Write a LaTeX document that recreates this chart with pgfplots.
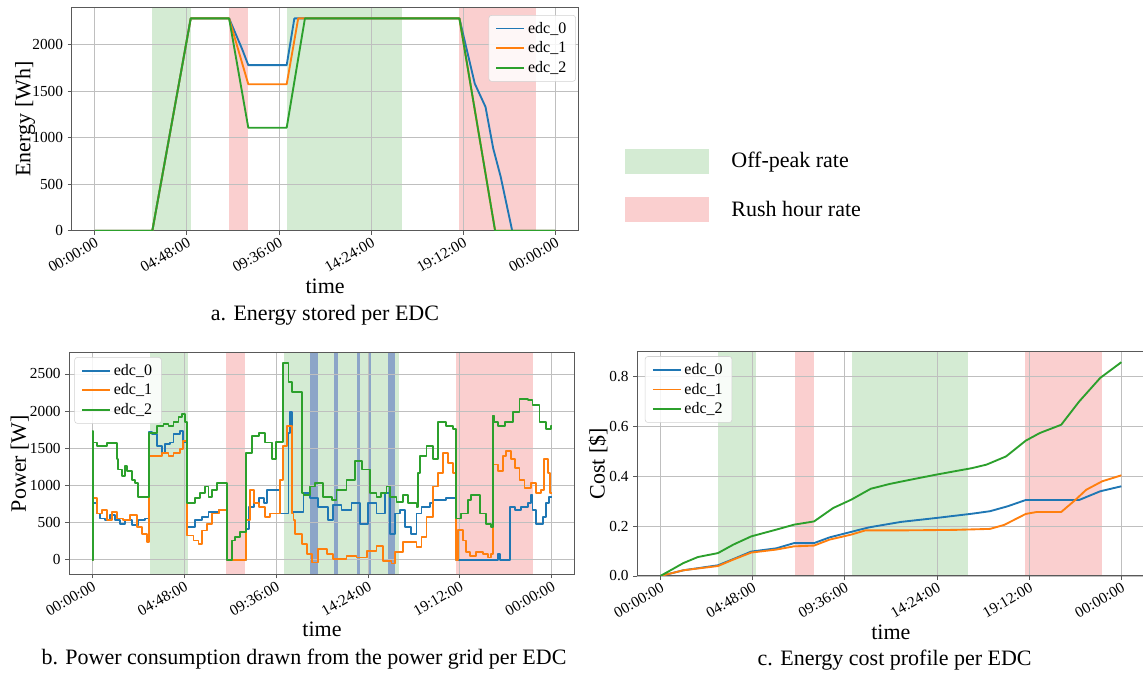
\documentclass[border=0pt]{standalone}
\usepackage{fontspec}
\setmainfont{Liberation Serif}
\usepackage{pgfplots}
\pgfplotsset{compat=1.18}
\definecolor{c0}{RGB}{31,119,180}
\definecolor{c1}{RGB}{255,127,14}
\definecolor{c2}{RGB}{44,160,44}
\definecolor{offpk}{RGB}{212,235,211}
\definecolor{rush}{RGB}{250,207,207}
\definecolor{bband}{RGB}{140,165,200}

\pgfplotsset{
  edcaxis/.style={
    scale only axis,
    set layers,
    clip mode=individual,
    xmin=-1.2, xmax=25.2,
    xtick={0,4.8,9.6,14.4,19.2,24},
    xticklabels={00:00:00,04:48:00,09:36:00,14:24:00,19:12:00,00:00:00},
    xticklabel style={rotate=30, anchor=north east, inner sep=1pt},
    tick label style={font=\fontsize{11.5}{13}\selectfont},
    /pgf/number format/assume math mode=true,
    /pgf/number format/1000 sep={},
    scaled y ticks=false,
    grid=major,
    grid style={draw=black!25, line width=0.6pt},
    axis line style={draw=black!65, line width=0.75pt},
    tick style={draw=black!65, line width=0.6pt},
    tick align=outside,
    major tick length=3pt,
    xtick pos=left, ytick pos=left,
    label style={font=\fontsize{16.5}{19}\selectfont},
    xlabel={time},
    xlabel style={at={(axis description cs:0.5,-0.25)}, anchor=center},
    legend style={font=\fontsize{12}{14}\selectfont, draw=black!18, fill=white, fill opacity=0.85, text opacity=1, rounded corners=2pt, row sep=1pt, inner xsep=5pt, inner ysep=3pt},
    legend cell align=left,
    legend image code/.code={\draw[##1, line width=1.4pt] (0pt,0pt) -- (21pt,0pt);},
    every axis plot/.append style={line width=1.4pt, line join=round},
  },
  band/.style={draw=none, fill=#1, forget plot, on layer=axis background},
}

\begin{document}
\begin{tikzpicture}

% ---------------- a. Energy stored ----------------
\begin{axis}[edcaxis,
  at={(53.8pt,331.7pt)}, anchor=south west,
  width=380pt, height=167.6pt,
  ymin=0, ymax=2400,
  ytick={0,500,1000,1500,2000},
  ylabel={Energy [Wh]},
  ylabel style={at={(axis description cs:-0.092,0.5)}, anchor=center},
  legend style={at={(0.995,0.965)}, anchor=north east},
]
\addplot[band=offpk] coordinates {(3,-100) (5,-100) (5,2500) (3,2500)} -- cycle;
\addplot[band=rush] coordinates {(7,-100) (8,-100) (8,2500) (7,2500)} -- cycle;
\addplot[band=offpk] coordinates {(10,-100) (16,-100) (16,2500) (10,2500)} -- cycle;
\addplot[band=rush] coordinates {(19,-100) (23,-100) (23,2500) (19,2500)} -- cycle;
\addplot[c0] coordinates {(0,0) (3,0) (5,2280) (7,2280) (7.69,1945) (8,1778) (10,1778) (10.4,2280) (19,2280) (19.8,1580) (20.36,1330) (20.76,885) (21.15,580) (21.75,0) (24,0)};
\addplot[c1] coordinates {(0,0) (3,0) (5,2280) (7,2280) (8,1573) (10,1573) (10.6,2280) (19,2280) (20.86,0) (24,0)};
\addplot[c2] coordinates {(0,0) (3,0) (5,2280) (7,2280) (8,1106) (10,1106) (10.95,2280) (19,2280) (20.86,0) (24,0)};
\legend{edc\_0,edc\_1,edc\_2}
\end{axis}

% ---------------- b. Power ----------------
\begin{axis}[edcaxis,
  at={(52pt,74pt)}, anchor=south west,
  width=379pt, height=166.2pt,
  ymin=-195, ymax=2785,
  ytick={0,500,1000,1500,2000,2500},
  ylabel={Power [W]},
  ylabel style={at={(axis description cs:-0.098,0.5)}, anchor=center},
  legend style={at={(0.01,0.98)}, anchor=north west},
]
\addplot[band=offpk] coordinates {(3,-300) (5,-300) (5,2900) (3,2900)} -- cycle;
\addplot[band=rush] coordinates {(7,-300) (8,-300) (8,2900) (7,2900)} -- cycle;
\addplot[band=offpk] coordinates {(10,-300) (16,-300) (16,2900) (10,2900)} -- cycle;
\addplot[band=rush] coordinates {(19,-300) (23,-300) (23,2900) (19,2900)} -- cycle;
\addplot[band=bband] coordinates {(11.39,-300) (11.81,-300) (11.81,2900) (11.39,2900)} -- cycle;
\addplot[band=bband] coordinates {(12.62,-300) (12.82,-300) (12.82,2900) (12.62,2900)} -- cycle;
\addplot[band=bband] coordinates {(13.81,-300) (14.01,-300) (14.01,2900) (13.81,2900)} -- cycle;
\addplot[band=bband] coordinates {(14.43,-300) (14.54,-300) (14.54,2900) (14.43,2900)} -- cycle;
\addplot[band=bband] coordinates {(15.47,-300) (15.80,-300) (15.80,2900) (15.47,2900)} -- cycle;
\addplot[c0, const plot] coordinates {(0,0) (0.02,759) (0.23,623) (0.4,555) (0.66,532) (0.92,600) (1.19,532) (1.45,486) (1.71,532) (2.06,464) (2.41,541) (2.76,555) (2.98,1723) (3.1,1691) (3.37,1532) (3.63,1441) (3.8,1555) (4.07,1577) (4.24,1691) (4.59,1736) (4.76,1577) (4.94,441) (5.38,532) (5.72,577) (6.07,645) (6.6,668) (7.03,0) (8.03,418) (8.17,714) (8.43,759) (8.69,827) (8.95,759) (9.13,941) (9.81,623) (10.25,1700) (10.33,1986) (10.42,645) (11.03,895) (11.38,827) (11.81,714) (12.33,532) (12.59,736) (13.02,668) (13.54,759) (13.98,486) (14.41,759) (14.85,623) (15.28,895) (15.54,350) (15.8,623) (16.07,668) (16.33,441) (16.67,350) (16.94,623) (17.2,714) (17.63,759) (17.8,804) (18.5,827) (19.02,0) (21.2,77) (21.3,0) (21.8,714) (22.06,668) (22.41,714) (22.75,759) (22.93,873) (23.0,668) (23.19,486) (23.54,577) (23.71,759) (23.88,850) (24,850)};
\addplot[c1, const plot] coordinates {(0,0) (0.02,827) (0.23,623) (0.49,668) (0.75,532) (1.01,645) (1.27,555) (1.62,532) (1.97,600) (2.32,441) (2.58,350) (2.84,236) (2.98,1395) (3.63,1441) (3.98,1395) (4.24,1441) (4.59,1486) (4.76,1600) (4.94,327) (5.29,259) (5.55,214) (5.72,395) (5.99,486) (6.25,623) (6.6,668) (7.03,0) (8.03,532) (8.25,941) (8.43,759) (8.69,714) (9.04,577) (9.3,623) (9.81,1077) (9.95,1532) (10.16,1804) (10.42,623) (10.51,532) (10.59,350) (10.94,214) (11.2,77) (11.46,-36) (11.81,145) (12.24,77) (12.59,9) (13.28,55) (13.8,32) (14.33,123) (14.85,191) (15.2,-14) (15.63,-50) (15.8,100) (16.24,236) (16.94,168) (17.2,307) (17.46,577) (17.8,986) (18.06,1168) (18.32,1441) (18.58,1304) (18.85,1168) (19.02,0) (19.1,400) (19.37,259) (19.54,100) (19.72,55) (20.06,100) (20.41,77) (20.67,32) (20.84,77) (20.93,1282) (21.19,1191) (21.45,1395) (21.62,1463) (21.89,1350) (22.06,1236) (22.32,1077) (22.58,964) (22.93,1032) (23.19,895) (23.45,941) (23.62,1350) (23.8,1168) (23.9,895) (24,895)};
\addplot[c2, const plot] coordinates {(0,0) (0.02,1736) (0.05,1577) (0.23,1532) (0.75,1568) (1.27,1350) (1.36,1214) (1.53,1123) (1.71,1259) (1.8,1191) (2.06,1077) (2.23,1032) (2.4,850) (2.67,841) (2.98,1705) (3.37,1805) (3.72,1827) (3.98,1805) (4.24,1850) (4.5,1918) (4.68,1964) (4.85,1850) (4.94,759) (5.38,827) (5.64,895) (5.9,986) (6.07,850) (6.25,941) (6.5,1032) (7.03,0) (7.3,259) (7.47,305) (7.73,373) (8.03,1441) (8.34,1668) (8.69,1705) (9.04,1577) (9.39,1350) (9.6,1580) (9.98,2645) (10.25,2395) (10.42,2259) (10.94,895) (11.03,873) (11.38,986) (11.64,1032) (12.07,850) (12.5,804) (12.76,941) (13.28,1077) (13.72,1327) (14.07,1214) (14.5,895) (14.85,850) (15.1,900) (15.37,986) (15.54,850) (15.89,782) (16.24,873) (16.5,759) (16.94,714) (17.02,1168) (17.11,1395) (17.46,1532) (17.8,1350) (18.06,1850) (18.5,1804) (18.85,1759) (19.02,555) (19.28,623) (19.63,804) (19.8,873) (20.24,623) (20.58,486) (20.84,441) (20.93,1941) (21.0,1850) (21.19,1804) (21.54,1850) (21.97,1986) (22.32,2168) (22.75,2150) (23.0,2077) (23.36,1850) (23.71,1759) (23.97,1804) (24,1804)};
\legend{edc\_0,edc\_1,edc\_2}
\end{axis}

% ---------------- c. Cost ----------------
\begin{axis}[edcaxis,
  at={(478pt,72.75pt)}, anchor=south west,
  width=380.3pt, height=168.2pt,
  ymin=0, ymax=0.9,
  ytick={0,0.2,0.4,0.6,0.8},
  yticklabel style={/pgf/number format/.cd, fixed, fixed zerofill, precision=1},
  ylabel={Cost [\$]},
  ylabel style={at={(axis description cs:-0.0775,0.5)}, anchor=center},
  legend style={at={(0.015,0.98)}, anchor=north west},
]
\addplot[band=offpk] coordinates {(3,-0.1) (5,-0.1) (5,1) (3,1)} -- cycle;
\addplot[band=rush] coordinates {(7,-0.1) (8,-0.1) (8,1) (7,1)} -- cycle;
\addplot[band=offpk] coordinates {(10,-0.1) (16,-0.1) (16,1) (10,1)} -- cycle;
\addplot[band=rush] coordinates {(19,-0.1) (23,-0.1) (23,1) (19,1)} -- cycle;
\addplot[c0] coordinates {(0,0) (1.2,0.023) (3,0.043) (3.8,0.068) (4.73,0.098) (6.03,0.111) (6.96,0.132) (8,0.132) (8.81,0.155) (9.93,0.177) (10.85,0.195) (12.52,0.217) (14.38,0.233) (16.23,0.25) (17.16,0.26) (18.09,0.28) (19.02,0.305) (20.87,0.305) (21.8,0.305) (22.9,0.34) (24,0.36)};
\addplot[c1] coordinates {(0,0) (1.2,0.023) (3,0.04) (3.8,0.066) (4.73,0.094) (6.03,0.106) (6.96,0.119) (8,0.122) (8.81,0.146) (9.93,0.166) (10.67,0.183) (12.5,0.183) (15.3,0.185) (17.16,0.189) (17.9,0.205) (19.02,0.249) (19.6,0.257) (20.87,0.257) (21.6,0.305) (22.17,0.346) (23,0.38) (24,0.404)};
\addplot[c2] coordinates {(0,0) (1.2,0.052) (1.95,0.076) (3,0.092) (3.8,0.126) (4.73,0.159) (6.03,0.186) (6.96,0.206) (8,0.219) (9,0.273) (9.93,0.306) (10.95,0.35) (11.97,0.37) (13.45,0.393) (14.38,0.407) (15.3,0.42) (16.23,0.433) (16.98,0.447) (18,0.48) (19.02,0.543) (19.76,0.574) (20.87,0.607) (21.8,0.70) (22.9,0.795) (24,0.858)};
\legend{edc\_0,edc\_1,edc\_2}
\end{axis}

% captions
\node[font=\fontsize{16.5}{19}\selectfont] at (243.75pt,268.5pt) {a. Energy stored per EDC};
\node[font=\fontsize{16.5}{19}\selectfont] at (228pt,10.5pt) {b. Power consumption drawn from the power grid per EDC};
\node[font=\fontsize{16.5}{19}\selectfont] at (671pt,9.75pt) {c. Energy cost profile per EDC};

% rate legend
\fill[offpk] (468.75pt,374.25pt) rectangle (532pt,392.8pt);
\fill[rush] (468.75pt,338.5pt) rectangle (532pt,357.2pt);
\node[anchor=west, font=\fontsize{16.5}{19}\selectfont] at (545pt,383.5pt) {Off-peak rate};
\node[anchor=west, font=\fontsize{16.5}{19}\selectfont] at (545pt,347.9pt) {Rush hour rate};

\pgfresetboundingbox
\path[use as bounding box] (0,0) rectangle (857.25pt,504.75pt);
\end{tikzpicture}
\end{document}
